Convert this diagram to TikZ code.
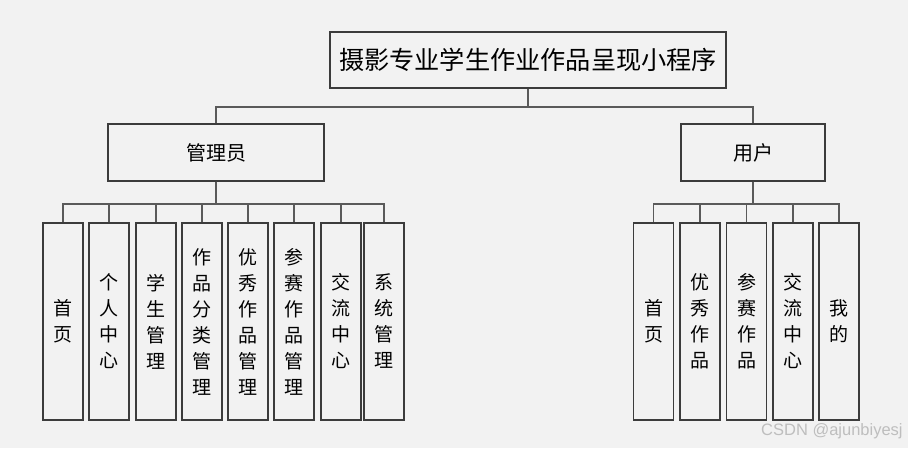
\documentclass[tikz,border=0pt]{standalone}
\usepackage{fontspec}
\newfontfamily\cjk{Noto Sans CJK SC}
\newfontfamily\wmfont{Liberation Sans}
\definecolor{bg}{HTML}{F2F2F2}
\definecolor{boxc}{HTML}{3C3C3C}
\definecolor{linec}{HTML}{5A5A5A}
\definecolor{wmc}{HTML}{BEBEBE}
\begin{document}
\begin{tikzpicture}[x=1pt,y=-1pt,
  box/.style={draw=boxc, line width=1.2pt, fill=bg, inner sep=0pt, align=center},
  link/.style={draw=linec, line width=1.2pt},
  childbox/.style={box, minimum width=40pt, minimum height=197pt, font=\cjk\fontsize{19}{26}\selectfont}]
\fill[bg] (0,0) rectangle (908,448);
\useasboundingbox (0,0) rectangle (908,448);
% top level
\node[box, minimum width=396pt, minimum height=56pt, font=\cjk\fontsize{25.2}{30}\selectfont] (root) at (528,60) {摄影专业学生作业作品呈现小程序};
\node[box, minimum width=216pt, minimum height=57pt, font=\cjk\fontsize{20}{24}\selectfont] (admin) at (216,152.5) {管理员};
\node[box, minimum width=144pt, minimum height=57pt, font=\cjk\fontsize{20}{24}\selectfont] (user) at (753,152.5) {用户};
% admin children
\node[childbox] (a1) at (63,321.5) {首\\页};
\node[childbox] (a2) at (109,321.5) {个\\人\\中\\心};
\node[childbox] (a3) at (156,321.5) {学\\生\\管\\理};
\node[childbox] (a4) at (202,321.5) {作\\品\\分\\类\\管\\理};
\node[childbox] (a5) at (248,321.5) {优\\秀\\作\\品\\管\\理};
\node[childbox] (a6) at (294,321.5) {参\\赛\\作\\品\\管\\理};
\node[childbox] (a7) at (341,321.5) {交\\流\\中\\心};
\node[childbox] (a8) at (384,321.5) {系\\统\\管\\理};
% user children
\node[childbox] (u1) at (653.5,321.5) {首\\页};
\node[childbox] (u2) at (700,321.5) {优\\秀\\作\\品};
\node[childbox] (u3) at (746.5,321.5) {参\\赛\\作\\品};
\node[childbox] (u4) at (793,321.5) {交\\流\\中\\心};
\node[childbox] (u5) at (839,321.5) {我\\的};
% buses
\coordinate (busT) at (0,107);
\coordinate (busC) at (0,204);
\draw[link] (root.south) -- (root.south |- busT) -| (admin.north);
\draw[link] (root.south) -- (root.south |- busT) -| (user.north);
\foreach \c in {a1,a2,a3,a4,a5,a6,a7,a8}
  \draw[link] (admin.south) -- (admin.south |- busC) -| (\c.north);
\foreach \c in {u1,u2,u3,u4,u5}
  \draw[link] (user.south) -- (user.south |- busC) -| (\c.north);
% watermark
\node[anchor=west, inner sep=0pt, text=wmc, font=\wmfont\fontsize{16.5}{18}\selectfont] (wm) at (761,431) {CSDN @ajunbiyesj};
\end{tikzpicture}
\end{document}
